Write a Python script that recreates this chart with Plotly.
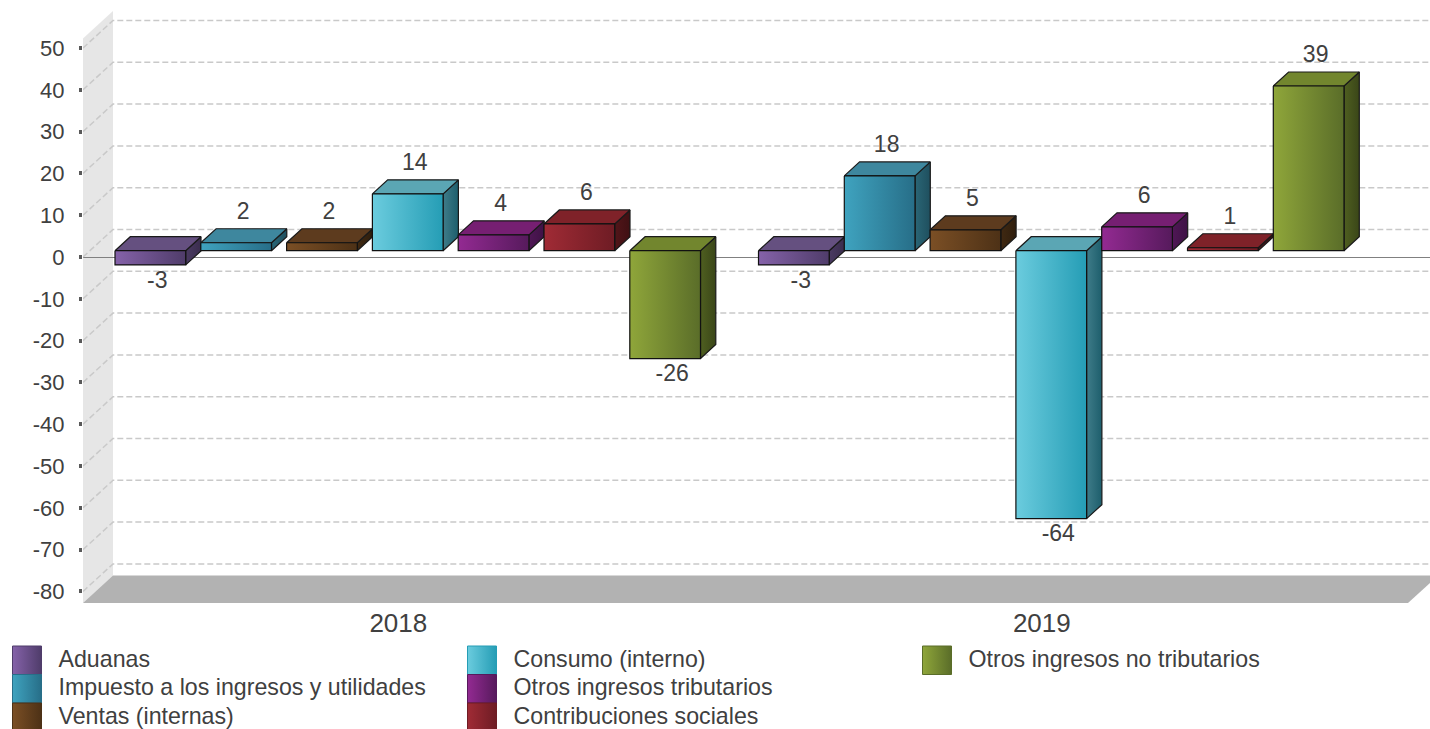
import plotly.graph_objects as go

years = ["2018", "2019"]
series = [
    "Aduanas",
    "Impuesto a los ingresos y utilidades",
    "Ventas (internas)",
    "Consumo (interno)",
    "Otros ingresos tributarios",
    "Contribuciones sociales",
    "Otros ingresos no tributarios",
]
values_2018 = [-3.4, 1.9, 1.9, 13.6, 3.8, 6.4, -25.8]
values_2019 = [-3.4, 17.9, 5.0, -64.1, 5.7, 0.7, 39.4]
y_ticks = [50, 40, 30, 20, 10, 0, -10, -20, -30, -40, -50, -60, -70, -80]
y_tick_labels = [str(t) for t in y_ticks]

# light, dark, top, side light, side dark
palette = [
    ("#8562a9", "#4f3c6a", "#655080", "#4a3a62", "#3a2d4d"),
    ("#3fa3bf", "#276e88", "#3e879e", "#2a6676", "#1f4f5e"),
    ("#7b4f25", "#4d3116", "#5d3b1e", "#402912", "#2f1e0d"),
    ("#6bccde", "#259db5", "#5ba6b4", "#3f7c89", "#1d5e6c"),
    ("#932a92", "#561a5c", "#761f72", "#4f1755", "#3e1245"),
    ("#a02b35", "#6e1c24", "#7f2229", "#521519", "#3f1013"),
    ("#8fa63a", "#5a6d29", "#72862e", "#4f5f20", "#3a4618"),
]

# 3d look, in axis units
px_per_x = 85.8
px_per_y = 4.18
bar_width = 70.7 / px_per_x
bar_inset = 17 / px_per_x
group_step = 7.5
depth_x = 15.3 / px_per_x
depth_y = 14 / px_per_y
wall_x = 30 / px_per_x
wall_y = 27.5 / px_per_y
base = 6.3 / px_per_y
x_min = (83 - 98) / px_per_x
x_max = (1430 - 98) / px_per_x
y_min = (257 - 604) / px_per_y
y_max = 257 / px_per_y
floor_y = -82.8
wall_top = 52.3
floor_right = (1408 - 98) / px_per_x

fig = go.Figure()


def path(points):
    return "M " + " L ".join(f"{x},{y}" for x, y in points) + " Z"


# --- Wall and floor, under the zero line ---
fig.add_shape(
    type="path",
    path=path(
        [
            (x_min, wall_top),
            (x_min + wall_x, wall_top + wall_y),
            (x_min + wall_x, floor_y + wall_y),
            (x_min, floor_y),
        ]
    ),
    fillcolor="#e6e6e6",
    line_width=0,
    layer="below",
)
fig.add_shape(
    type="path",
    path=path(
        [
            (x_min, floor_y),
            (x_min + wall_x, floor_y + wall_y),
            (floor_right + wall_x, floor_y + wall_y),
            (floor_right, floor_y),
        ]
    ),
    fillcolor="#b2b2b2",
    line_width=0,
    layer="below",
)

# --- Grid lines run along the wall, then along the back ---
for tick in y_ticks:
    fig.add_trace(
        go.Scatter(
            x=[x_min, x_min + wall_x, x_max],
            y=[tick, tick + wall_y, tick + wall_y],
            mode="lines",
            line=dict(color="#c9c9c9", width=1.5, dash="6px,3px"),
            hoverinfo="skip",
            showlegend=False,
        )
    )


def face(xs, ys, name, line, colors=None, fill=None):
    trace = dict(
        x=xs,
        y=ys,
        mode="lines",
        fill="toself",
        name=name,
        line=dict(color=line, width=1.2),
        hoverinfo="skip",
        showlegend=False,
    )
    if colors:
        trace["fillgradient"] = dict(
            type="horizontal", colorscale=[[0, colors[0]], [1, colors[1]]]
        )
    else:
        trace["fillcolor"] = fill
    fig.add_trace(go.Scatter(**trace))


label_x = []
label_y = []
label_text = []

for g, values in enumerate([values_2018, values_2019]):
    for i, value in enumerate(values):
        light, dark, top, side_light, side_dark = palette[i]
        left = i + g * group_step + bar_inset
        right = left + bar_width
        upper = base + max(value, 0)
        lower = base + min(value, 0)

        face(
            [right, right + depth_x, right + depth_x, right, right],
            [upper, upper + depth_y, lower + depth_y, lower, upper],
            series[i],
            "#1a1a1a",
            colors=(side_light, side_dark),
        )
        face(
            [left, left + depth_x, right + depth_x, right, left],
            [upper, upper + depth_y, upper + depth_y, upper, upper],
            series[i],
            "#1a1a1a",
            fill=top,
        )
        face(
            [left, right, right, left, left],
            [upper, upper, lower, lower, upper],
            series[i],
            "#111111",
            colors=(light, dark),
        )

        label_x.append((left + right) / 2 + 7 / px_per_x)
        if value >= 0:
            label_y.append(upper + depth_y + 16 / px_per_y)
        else:
            label_y.append(lower - 17 / px_per_y)
        label_text.append(f"{value:.0f}")

fig.add_trace(
    go.Scatter(
        x=label_x,
        y=label_y,
        text=label_text,
        mode="text",
        textposition="middle center",
        textfont=dict(size=23, color="#404040"),
        hoverinfo="skip",
        showlegend=False,
    )
)

# --- Legend, three rows to a column ---
for i, name in enumerate(series):
    col = i // 3
    row = i % 3
    sx = 12.5 + col * 455
    sy = 646 + row * 28.5
    light, dark = palette[i][:2]
    fig.add_trace(
        go.Scatter(
            x=[sx, sx + 29, sx + 29, sx, sx],
            y=[sy, sy, sy + 28.5, sy + 28.5, sy],
            xaxis="x2",
            yaxis="y2",
            mode="lines",
            fill="toself",
            fillgradient=dict(
                type="horizontal", colorscale=[[0, light], [1, dark]]
            ),
            line=dict(color=dark, width=1),
            hoverinfo="skip",
            showlegend=False,
        )
    )
    fig.add_trace(
        go.Scatter(
            x=[sx + 46],
            y=[sy + 15],
            text=[name],
            xaxis="x2",
            yaxis="y2",
            mode="text",
            textposition="middle right",
            textfont=dict(size=23.2, color="#404040"),
            hoverinfo="skip",
            showlegend=False,
        )
    )

fig.update_layout(
    width=1430,
    height=729,
    margin=dict(l=0, r=0, t=0, b=0),
    paper_bgcolor="white",
    plot_bgcolor="white",
    font=dict(family="Liberation Sans", color="#404040"),
    showlegend=False,
    xaxis=dict(
        domain=[83 / 1430, 1],
        range=[x_min, x_max],
        tickvals=[3.5, 3.5 + group_step],
        ticktext=years,
        tickfont=dict(size=26),
        ticks="",
        showgrid=False,
        zeroline=False,
        showline=False,
        ticklabelstandoff=1,
    ),
    yaxis=dict(
        domain=[125 / 729, 1],
        range=[y_min, y_max],
        tickvals=y_ticks,
        ticktext=y_tick_labels,
        tickfont=dict(size=22),
        ticks="outside",
        ticklen=3,
        tickwidth=4,
        tickcolor="#595959",
        showgrid=False,
        zeroline=True,
        zerolinecolor="#808080",
        zerolinewidth=1,
        showline=False,
        ticklabelstandoff=10,
    ),
    xaxis2=dict(domain=[0, 1], range=[0, 1430], visible=False, anchor="y2"),
    yaxis2=dict(domain=[0, 89 / 729], range=[729, 640], visible=False, anchor="x2"),
)

fig.write_html(
    "out.html",
    config=dict(displayModeBar=False),
    post_script="document.body.style.margin='0';",
)
